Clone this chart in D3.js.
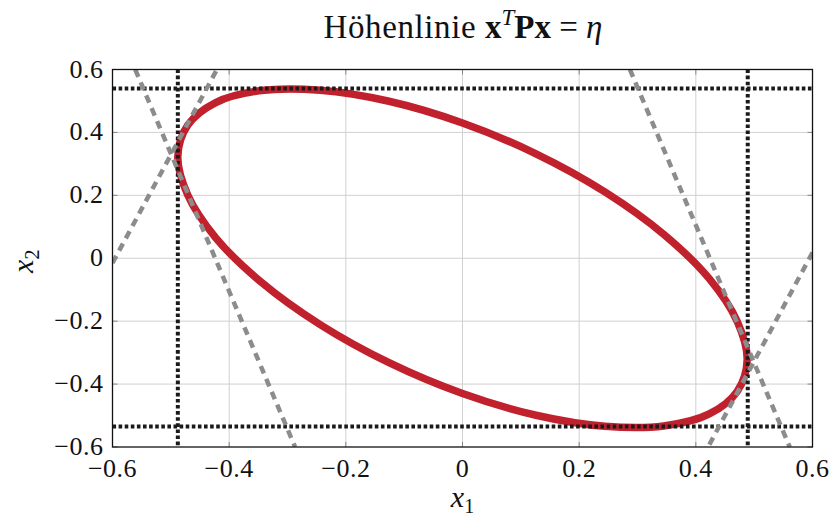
<!DOCTYPE html>
<html><head><meta charset="utf-8">
<script src="https://cdn.jsdelivr.net/npm/d3@7"></script>
<style>
body{margin:0;background:#fff;}
text{font-family:"Liberation Serif","DejaVu Serif",serif;fill:#111;}
</style></head>
<body><svg id="c" width="831" height="519"></svg>
<script>
// ---- data ----
const xTicks = [-0.6,-0.4,-0.2,0,0.2,0.4,0.6];
const yTicks = [-0.6,-0.4,-0.2,0,0.2,0.4,0.6];
// contour x^T P x = eta
const ellipseX = [0.488,0.471,0.423,0.345,0.244,0.126,0.000,-0.126,-0.244,-0.345,-0.423,-0.471,
                  -0.488,-0.471,-0.423,-0.345,-0.244,-0.126,0.000,0.126,0.244,0.345,0.423,0.471];
const ellipseY = [-0.323,-0.201,-0.065,0.076,0.211,0.332,0.430,0.499,0.534,0.533,0.495,0.423,
                  0.323,0.201,0.065,-0.076,-0.211,-0.332,-0.430,-0.499,-0.534,-0.533,-0.495,-0.423];
// bounding box (black dotted)
const boundX = [-0.488, 0.489];
const boundY = [-0.535, 0.540];
// gray dashed lines: [x0,y0,x1,y1]
const grayLines = [
  [-0.561, 0.600, -0.287, -0.600],
  [-0.600, -0.015, -0.421, 0.600],
  [0.287, 0.600, 0.561, -0.600],
  [0.600, 0.018, 0.421, -0.600]
];
const xLabels = ["\u22120.6","\u22120.4","\u22120.2","0","0.2","0.4","0.6"];
const yLabels = ["\u22120.6","\u22120.4","\u22120.2","0","0.2","0.4","0.6"];

// ---- layout ----
const L=112.5, T=69.5, W=700, H=377.5;
const svg=d3.select("#c");
const x=d3.scaleLinear().domain([-0.6,0.6]).range([L,L+W]);
const y=d3.scaleLinear().domain([-0.6,0.6]).range([T+H,T]);

svg.append("defs").append("clipPath").attr("id","clip")
  .append("rect").attr("x",L).attr("y",T).attr("width",W).attr("height",H);

// grid
const g=svg.append("g");
g.selectAll(".gx").data(xTicks.slice(1,-1)).enter().append("line")
  .attr("x1",d=>x(d)).attr("x2",d=>x(d)).attr("y1",T).attr("y2",T+H)
  .attr("stroke","#d0d0d0").attr("stroke-width",1);
g.selectAll(".gy").data(yTicks.slice(1,-1)).enter().append("line")
  .attr("y1",d=>y(d)).attr("y2",d=>y(d)).attr("x1",L).attr("x2",L+W)
  .attr("stroke","#d0d0d0").attr("stroke-width",1);

// ticks inside (both sides)
const tk=svg.append("g").attr("stroke","#888").attr("stroke-width",1);
xTicks.forEach(v=>{
  tk.append("line").attr("x1",x(v)).attr("x2",x(v)).attr("y1",T+H).attr("y2",T+H-5);
  tk.append("line").attr("x1",x(v)).attr("x2",x(v)).attr("y1",T).attr("y2",T+5);
});
yTicks.forEach(v=>{
  tk.append("line").attr("y1",y(v)).attr("y2",y(v)).attr("x1",L).attr("x2",L+5);
  tk.append("line").attr("y1",y(v)).attr("y2",y(v)).attr("x1",L+W).attr("x2",L+W-5);
});

const plot=svg.append("g").attr("clip-path","url(#clip)");

// ellipse
const pts=ellipseX.map((v,i)=>[x(v),y(ellipseY[i])]);
plot.append("path").attr("d",d3.line().curve(d3.curveCatmullRomClosed.alpha(0.5))(pts))
  .attr("fill","none").attr("stroke","#c1202d").attr("stroke-width",7.5);

// black dotted bounds
boundX.forEach(v=>plot.append("line").attr("x1",x(v)).attr("x2",x(v)).attr("y1",T).attr("y2",T+H)
  .attr("stroke","#1a1a1a").attr("stroke-width",4).attr("stroke-dasharray","3.6 2.5"));
boundY.forEach(v=>plot.append("line").attr("y1",y(v)).attr("y2",y(v)).attr("x1",L).attr("x2",L+W)
  .attr("stroke","#1a1a1a").attr("stroke-width",4).attr("stroke-dasharray","3.6 2.5"));

// gray dashed
grayLines.forEach(a=>plot.append("line")
  .attr("x1",x(a[0])).attr("y1",y(a[1])).attr("x2",x(a[2])).attr("y2",y(a[3]))
  .attr("stroke","#8c8c8c").attr("stroke-width",4.5).attr("stroke-dasharray","8 6"));

// frame
svg.append("rect").attr("x",L).attr("y",T).attr("width",W).attr("height",H)
  .attr("fill","none").attr("stroke","#111").attr("stroke-width",1.3);

// tick labels
svg.selectAll(".xl").data(xTicks).enter().append("text")
  .attr("x",d=>x(d)).attr("y",T+H+30).attr("text-anchor","middle")
  .attr("font-size",26).attr("letter-spacing",0.5).text((d,i)=>xLabels[i]);
svg.selectAll(".yl").data(yTicks).enter().append("text")
  .attr("x",L-9).attr("y",d=>y(d)+8).attr("text-anchor","end")
  .attr("font-size",26).attr("letter-spacing",0.5).text((d,i)=>yLabels[i]);

// axis labels
const xl=svg.append("text").attr("x",x(0)).attr("y",507).attr("text-anchor","middle").attr("font-size",30);
xl.append("tspan").attr("font-style","italic").text("x");
xl.append("tspan").attr("font-size",20).attr("dy",6).text("1");
const yl=svg.append("text").attr("transform",`translate(33,${y(0)+3}) rotate(-90)`).attr("text-anchor","middle").attr("font-size",30);
yl.append("tspan").attr("font-style","italic").text("x");
yl.append("tspan").attr("font-size",20).attr("dy",6).text("2");

// title
const tt=svg.append("text").attr("x",463).attr("y",38).attr("text-anchor","middle").attr("font-size",33);
tt.append("tspan").attr("letter-spacing",0.6).text("Höhenlinie ");
tt.append("tspan").attr("font-weight","bold").text("x");
tt.append("tspan").attr("font-style","italic").attr("font-size",23).attr("dy",-13).text("T");
tt.append("tspan").attr("font-weight","bold").attr("dy",13).text("Px");
tt.append("tspan").text(" = ");
tt.append("tspan").attr("font-style","italic").text("η");
</script></body></html>
